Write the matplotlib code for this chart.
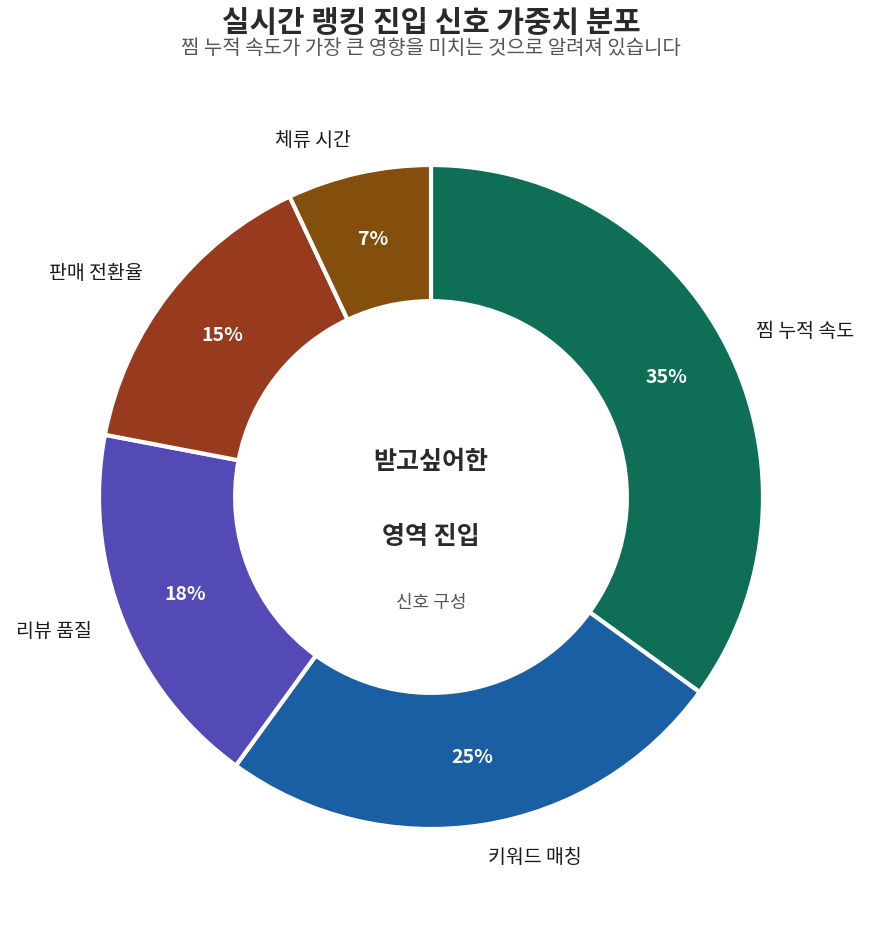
import matplotlib.pyplot as plt

plt.rcParams['font.family'] = ['Noto Sans CJK KR', 'DejaVu Sans']

labels = ["찜 누적 속도", "키워드 매칭", "리뷰 품질", "판매 전환율", "체류 시간"]
values = [35, 25, 18, 15, 7]
colors = ["#0f6e56", "#1a5ea3", "#544ab6", "#983a1e", "#844e0c"]

title = "실시간 랭킹 진입 신호 가중치 분포"
subtitle = "찜 누적 속도가 가장 큰 영향을 미치는 것으로 알려져 있습니다"

fig = plt.figure(figsize=(8.71, 9.27), dpi=100)
ax = fig.add_axes([0.0, 0.0, 1.0, 1.0])

wedges, texts, autotexts = ax.pie(
    values, labels=labels, colors=colors, startangle=90, counterclock=False,
    radius=1.0, labeldistance=1.1, pctdistance=0.795,
    autopct=lambda p: f"{p:.0f}%",
    wedgeprops=dict(width=0.41, edgecolor="white", linewidth=3),
    textprops=dict(fontsize=14, color="#1a1a1a"),
)
for t in autotexts:
    t.set_color("white")
    t.set_fontsize(14)
    t.set_fontweight("bold")

# place the pie: center (431, 497) px, radius 332 px
cx, cy, r = 431 / 871, 1 - 497 / 927, 332
w_units = 871 / r
h_units = 927 / r
ax.set_xlim(-cx * w_units, (1 - cx) * w_units)
ax.set_ylim(-cy * h_units, (1 - cy) * h_units)
ax.set_aspect("equal")
ax.axis("off")

ax.text(0, 0.105, "받고싶어한", ha="center", va="center", fontsize=18,
        fontweight="bold", color="#2a2a2a")
ax.text(0, -0.12, "영역 진입", ha="center", va="center", fontsize=18,
        fontweight="bold", color="#2a2a2a")
ax.text(0, -0.32, "신호 구성", ha="center", va="center", fontsize=13,
        color="#555555")

fig.text(431 / 871, 1 - 23 / 927, title, ha="center", va="center",
         fontsize=21.5, fontweight="bold", color="#2a2a2a")
fig.text(431 / 871, 1 - 49 / 927, subtitle, ha="center", va="center",
         fontsize=14.4, color="#555555")

fig.savefig("out.png", dpi=100, facecolor="white")
